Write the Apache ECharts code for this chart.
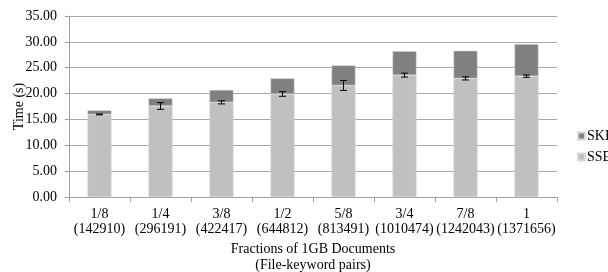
<!DOCTYPE html>
<html>
<head>
<meta charset="utf-8">
<script src="https://cdn.jsdelivr.net/npm/echarts@6/dist/echarts.min.js"></script>
<style>
  html, body { margin: 0; padding: 0; background: #fff; }
  #chart { width: 608px; height: 272px; }
</style>
</head>
<body>
<div id="chart"></div>
<script>
// categories (fraction + number of file-keyword pairs)
const categories = ['1/8\n(142910)', '1/4\n(296191)', '3/8\n(422417)', '1/2\n(644812)',
  '5/8\n(813491)', '3/4\n(1010474)', '7/8\n(1242043)', '1\n(1371656)'];
// SSE part of the time (s)
const sseData = [15.97, 17.6, 18.3, 19.92, 21.57, 23.57, 22.93, 23.37];
// SKE part stacked on top (s)
const skeData = [0.78, 1.48, 2.4, 3.03, 3.88, 4.63, 5.35, 6.2];
// error (+/-) on the SSE value
const sseErr = [0.08, 0.65, 0.3, 0.45, 0.97, 0.38, 0.3, 0.22];

const font = "'Liberation Serif', 'Times New Roman', serif";
const chart = echarts.init(document.getElementById('chart'));

const errData = sseData.map((v, i) => [i, v - sseErr[i], v + sseErr[i]]);

const option = {
  animation: false,
  textStyle: { fontFamily: font },
  legend: {
    orient: 'vertical',
    left: 577,
    top: 129,
    padding: 0,
    itemWidth: 7,
    itemHeight: 7,
    itemGap: 7,
    icon: 'rect',
    data: ['SKE', 'SSE'],
    textStyle: { fontFamily: font, fontSize: 14, lineHeight: 14, color: '#000', padding: [0, 0, 0, -3] }
  },
  grid: { left: 69, right: 51, top: 16, bottom: 75, outerBoundsMode: 'none' },
  xAxis: {
    type: 'category',
    data: categories,
    name: 'Fractions of 1GB Documents\n(File-keyword pairs)',
    nameLocation: 'middle',
    nameGap: 44,
    nameMoveOverlap: false,
    nameTextStyle: { fontFamily: font, fontSize: 14, color: '#000', lineHeight: 16 },
    axisLine: { lineStyle: { color: '#a0a0a0' } },
    axisTick: { show: true, length: 5, lineStyle: { color: '#a0a0a0' } },
    axisLabel: { fontFamily: font, fontSize: 14, color: '#000', lineHeight: 15, margin: 10, interval: 0 }
  },
  yAxis: {
    type: 'value',
    min: 0,
    max: 35,
    interval: 5,
    name: 'Time (s)',
    nameLocation: 'middle',
    nameGap: 43,
    nameMoveOverlap: false,
    nameTextStyle: { fontFamily: font, fontSize: 14, color: '#000' },
    axisLine: { show: true, lineStyle: { color: '#a0a0a0' } },
    axisTick: { show: true, length: 4, lineStyle: { color: '#a0a0a0' } },
    axisLabel: { fontFamily: font, fontSize: 14, color: '#000', margin: 12, formatter: v => v.toFixed(2) },
    splitLine: { lineStyle: { color: '#a8a8a8', width: 1 } }
  },
  series: [
    {
      name: 'SSE',
      type: 'bar',
      stack: 'time',
      barWidth: 24,
      data: sseData,
      itemStyle: { color: '#c0c0c0', borderColor: '#d8d8d8', borderWidth: 0.5 }
    },
    {
      name: 'SKE',
      type: 'bar',
      stack: 'time',
      barWidth: 24,
      data: skeData,
      itemStyle: { color: '#808080', borderColor: '#d8d8d8', borderWidth: 0.5 }
    },
    {
      name: 'err',
      type: 'custom',
      data: errData,
      z: 10,
      renderItem: (params, api) => {
        const x = api.value(0);
        const lo = api.coord([x, api.value(1)]);
        const hi = api.coord([x, api.value(2)]);
        const hw = 3.5;
        const style = { stroke: '#000', lineWidth: 1 };
        return {
          type: 'group',
          children: [
            { type: 'line', shape: { x1: lo[0], y1: lo[1], x2: hi[0], y2: hi[1] }, style },
            { type: 'line', shape: { x1: lo[0] - hw, y1: lo[1], x2: lo[0] + hw, y2: lo[1] }, style },
            { type: 'line', shape: { x1: hi[0] - hw, y1: hi[1], x2: hi[0] + hw, y2: hi[1] }, style }
          ]
        };
      }
    }
  ]
};

chart.setOption(option);
</script>
</body>
</html>
